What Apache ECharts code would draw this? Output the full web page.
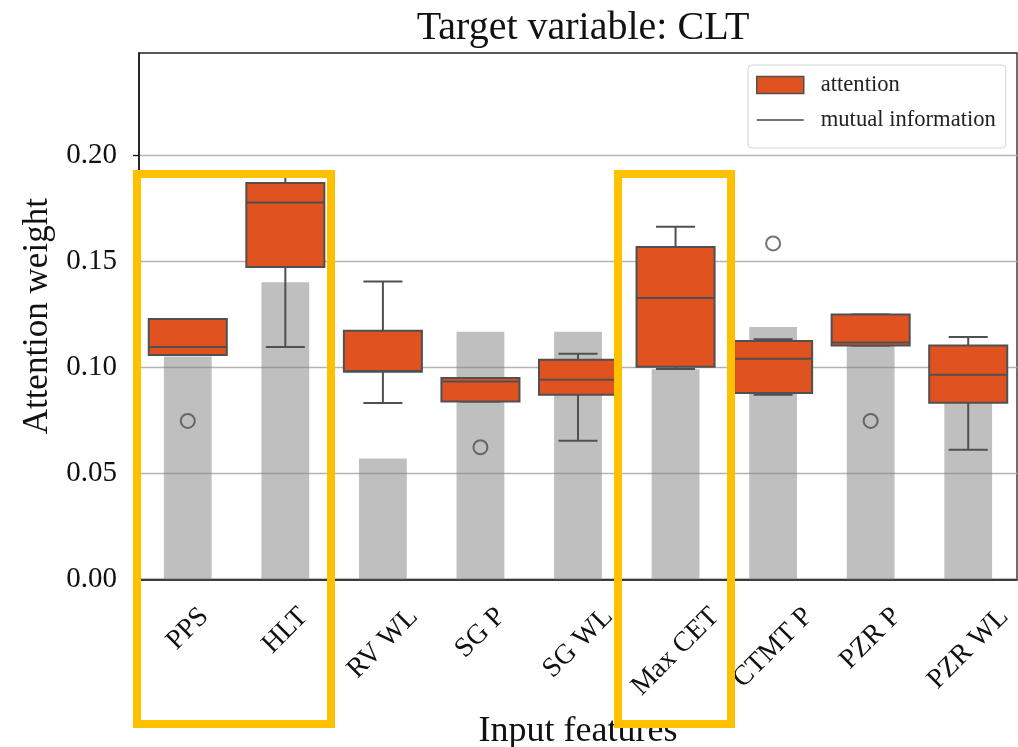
<!DOCTYPE html>
<html>
<head>
<meta charset="utf-8">
<script src="https://cdn.jsdelivr.net/npm/echarts@6/dist/echarts.min.js"></script>
<style>
  html, body { margin: 0; padding: 0; background: #fff; }
  #chart { width: 1018px; height: 747px; }
</style>
</head>
<body>
<div id="chart"></div>
<script>
// Input features (x categories)
const features = ['PPS', 'HLT', 'RV WL', 'SG P', 'SG WL', 'Max CET', 'CTMT P', 'PZR P', 'PZR WL'];

// Mutual information per feature (grey bars)
const mutualInfo = [0.105, 0.140, 0.057, 0.1167, 0.1167, 0.099, 0.1189, 0.120, 0.100];

// Attention weight distribution per feature (box plots)
const whiskerLow  = [0.1057, 0.1095, 0.0831, 0.0838, 0.0653, 0.0992, 0.0870, 0.1102, 0.0611];
const quartile1   = [0.1057, 0.1472, 0.0978, 0.0838, 0.0870, 0.1002, 0.0878, 0.1102, 0.0832];
const medians     = [0.1095, 0.1776, 0.0982, 0.0933, 0.0941, 0.1326, 0.1040, 0.1116, 0.0964];
const quartile3   = [0.1227, 0.1868, 0.1172, 0.0949, 0.1035, 0.1566, 0.1124, 0.1248, 0.1102];
const whiskerHigh = [0.1227, 0.1900, 0.1404, 0.0949, 0.1063, 0.1661, 0.1132, 0.1248, 0.1142];

// Outlying attention weights: [feature index, value]
const outlierIdx = [0, 3, 6, 7];
const outlierVal = [0.0747, 0.0623, 0.1583, 0.0747];

// Y axis ticks
const yTicks = [0, 0.05, 0.10, 0.15, 0.20];

const FONT = '"Liberation Serif", "Times New Roman", serif';
const BOX_FILL = '#E05320';
const EDGE = '#505050';
const XLABEL_SIZE = 28;

const boxData = features.map((_, i) => [i, whiskerLow[i], quartile1[i], medians[i], quartile3[i], whiskerHigh[i]]);
const outlierData = outlierIdx.map((k, j) => [k, outlierVal[j]]);

// Rotated tick labels are centred under their tick with the top of the
// rotated bounding box at a fixed distance below the axis.
const ctx = document.createElement('canvas').getContext('2d');
ctx.font = XLABEL_SIZE + 'px ' + FONT;
const richStyles = {};
features.forEach((f, i) => {
  const L = ctx.measureText(f).width;
  const h = XLABEL_SIZE;
  const d = 14 + (L + h) / (2 * Math.SQRT2);
  const p = Math.SQRT2 * d;
  richStyles['l' + i] = {
    fontFamily: FONT, fontSize: XLABEL_SIZE, color: '#111',
    padding: [p, p, 0, 0]
  };
});

const chart = echarts.init(document.getElementById('chart'), null, { renderer: 'canvas' });

function renderBox(params, api) {
  const x = api.value(0);
  const pLo = api.coord([x, api.value(1)]);
  const pQ1 = api.coord([x, api.value(2)]);
  const pMed = api.coord([x, api.value(3)]);
  const pQ3 = api.coord([x, api.value(4)]);
  const pHi = api.coord([x, api.value(5)]);
  const bw = api.size([1, 0])[0] * 0.8;
  const cw = bw * 0.5;
  const cx = pQ1[0];
  const ls = { stroke: EDGE, lineWidth: 2 };
  return {
    type: 'group',
    children: [
      { type: 'line', shape: { x1: cx, y1: pHi[1], x2: cx, y2: pQ3[1] }, style: ls },
      { type: 'line', shape: { x1: cx, y1: pQ1[1], x2: cx, y2: pLo[1] }, style: ls },
      { type: 'line', shape: { x1: cx - cw / 2, y1: pHi[1], x2: cx + cw / 2, y2: pHi[1] }, style: ls },
      { type: 'line', shape: { x1: cx - cw / 2, y1: pLo[1], x2: cx + cw / 2, y2: pLo[1] }, style: ls },
      { type: 'rect', shape: { x: cx - bw / 2, y: pQ3[1], width: bw, height: pQ1[1] - pQ3[1] },
        style: { fill: BOX_FILL, stroke: EDGE, lineWidth: 2 } },
      { type: 'line', shape: { x1: cx - bw / 2, y1: pMed[1], x2: cx + bw / 2, y2: pMed[1] }, style: ls }
    ]
  };
}

chart.setOption({
  animation: false,
  backgroundColor: '#fff',
  title: {
    text: 'Target variable: CLT',
    left: 578, top: 3, textAlign: 'center',
    textStyle: { fontFamily: FONT, fontSize: 40, fontWeight: 'normal', color: '#111', lineHeight: 40 }
  },
  legend: {
    orient: 'vertical',
    left: 748, top: 65,
    padding: [7, 10, 15, 8],
    itemGap: 9,
    itemWidth: 47, itemHeight: 17,
    backgroundColor: '#fff',
    borderColor: '#d4d4d4', borderWidth: 1, borderRadius: 4,
    textStyle: { fontFamily: FONT, fontSize: 22.6, color: '#222', lineHeight: 26, padding: [0, 0, 0, 12] },
    data: [
      { name: 'attention', icon: 'rect', itemStyle: { color: BOX_FILL, borderColor: EDGE, borderWidth: 1.5 } },
      { name: 'mutual information', icon: 'path://M0,0H48V1.6H0Z', itemStyle: { color: '#444', borderWidth: 0 } }
    ]
  },
  grid: {
    left: 139, right: 1, top: 53, bottom: 167.5,
    outerBoundsMode: 'none',
    containLabel: false,
    show: true, borderColor: '#222', borderWidth: 1.3, backgroundColor: 'transparent'
  },
  xAxis: {
    type: 'category',
    data: features,
    name: 'Input features',
    nameLocation: 'middle',
    nameGap: 134,
    nameTextStyle: { fontFamily: FONT, fontSize: 36, color: '#111' },
    axisLine: { lineStyle: { color: '#111', width: 1.5 } },
    axisTick: { alignWithLabel: true, length: 6, lineStyle: { color: '#111', width: 1.3 } },
    axisLabel: {
      interval: 0, rotate: 45, margin: 9,
      align: 'center', verticalAlign: 'middle',
      fontFamily: FONT, fontSize: XLABEL_SIZE, color: '#111',
      formatter: (v, i) => '{l' + i + '|' + v + '}',
      rich: richStyles
    },
    splitLine: { show: false }
  },
  yAxis: {
    type: 'value',
    min: 0, max: 0.248,
    name: 'Attention weight',
    nameLocation: 'middle',
    nameGap: 75,
    nameTextStyle: { fontFamily: FONT, fontSize: 35, color: '#111' },
    axisLine: { show: true, lineStyle: { color: '#111', width: 1.5 } },
    axisTick: { show: true, length: 6, customValues: yTicks, lineStyle: { color: '#111', width: 1.3 } },
    axisLabel: {
      customValues: yTicks,
      margin: 22,
      fontFamily: FONT, fontSize: 29, color: '#111',
      formatter: v => v.toFixed(2)
    },
    splitLine: { show: true, lineStyle: { color: '#b4b4b4', width: 1.4 } }
  },
  series: [
    {
      name: 'mutual information',
      type: 'bar',
      data: mutualInfo,
      barWidth: '49%',
      itemStyle: { color: 'rgba(128,128,128,0.5)' },
      z: 2
    },
    {
      name: 'attention',
      type: 'custom',
      data: boxData,
      encode: { x: 0, y: [1, 2, 3, 4, 5] },
      renderItem: renderBox,
      z: 3
    },
    {
      name: 'outliers',
      type: 'scatter',
      data: outlierData,
      symbol: 'circle',
      symbolSize: 14,
      itemStyle: { color: 'rgba(0,0,0,0)', borderColor: EDGE, borderWidth: 2 },
      z: 4
    }
  ],
  graphic: [
    { type: 'rect', z: 100, silent: true,
      shape: { x: 137, y: 174, width: 194, height: 550 },
      style: { fill: 'none', stroke: '#FFC000', lineWidth: 8 } },
    { type: 'rect', z: 100, silent: true,
      shape: { x: 618, y: 174, width: 113, height: 550 },
      style: { fill: 'none', stroke: '#FFC000', lineWidth: 8 } }
  ]
});
</script>
</body>
</html>
